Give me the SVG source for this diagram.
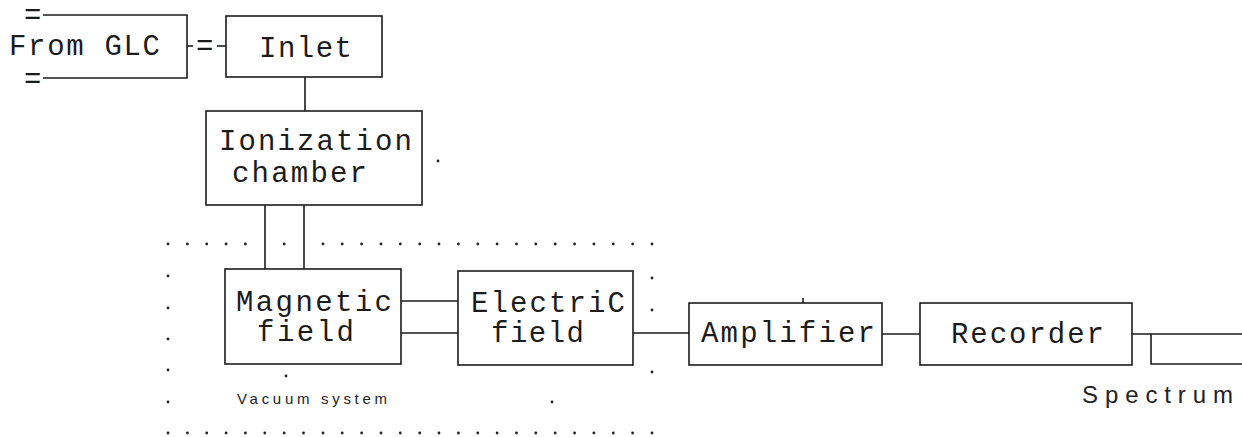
<svg xmlns="http://www.w3.org/2000/svg" width="1242" height="437" viewBox="0 0 1242 437">
<style>
.box{fill:none;stroke:#1c1c1c;stroke-width:1.6}
.ln{fill:none;stroke:#1c1c1c;stroke-width:1.6}
.t{font-family:"Liberation Mono","DejaVu Sans Mono",monospace;font-size:29px;fill:#1c1c1c}
.s{font-family:"Liberation Sans",Arial,sans-serif;fill:#222}
.d{fill:#222}
</style>
<defs>
<circle id="dot" r="1.4" class="d"/>
</defs>
<rect width="1242" height="437" fill="#ffffff"/>

<g id="vacuum-system">
<g id="vac-dots">
<use href="#dot" x="168" y="244"/><use href="#dot" x="187.4" y="244"/><use href="#dot" x="206.7" y="244"/><use href="#dot" x="226.1" y="244"/><use href="#dot" x="245.4" y="244"/><use href="#dot" x="284.2" y="244"/><use href="#dot" x="323" y="244"/><use href="#dot" x="342.2" y="244"/><use href="#dot" x="361.6" y="244"/><use href="#dot" x="381" y="244"/><use href="#dot" x="400.3" y="244"/><use href="#dot" x="419.7" y="244"/><use href="#dot" x="439" y="244"/><use href="#dot" x="458.4" y="244"/><use href="#dot" x="477.8" y="244"/><use href="#dot" x="497.1" y="244"/><use href="#dot" x="516.5" y="244"/><use href="#dot" x="535.8" y="244"/><use href="#dot" x="555.2" y="244"/><use href="#dot" x="574.6" y="244"/><use href="#dot" x="593.9" y="244"/><use href="#dot" x="613.3" y="244"/><use href="#dot" x="632.6" y="244"/><use href="#dot" x="652" y="244"/>
<use href="#dot" x="168" y="433"/><use href="#dot" x="187.4" y="433"/><use href="#dot" x="206.7" y="433"/><use href="#dot" x="226.1" y="433"/><use href="#dot" x="245.4" y="433"/><use href="#dot" x="264.8" y="433"/><use href="#dot" x="284.2" y="433"/><use href="#dot" x="303.5" y="433"/><use href="#dot" x="323" y="433"/><use href="#dot" x="342.2" y="433"/><use href="#dot" x="361.6" y="433"/><use href="#dot" x="381" y="433"/><use href="#dot" x="400.3" y="433"/><use href="#dot" x="419.7" y="433"/><use href="#dot" x="439" y="433"/><use href="#dot" x="458.4" y="433"/><use href="#dot" x="477.8" y="433"/><use href="#dot" x="497.1" y="433"/><use href="#dot" x="516.5" y="433"/><use href="#dot" x="535.8" y="433"/><use href="#dot" x="555.2" y="433"/><use href="#dot" x="574.6" y="433"/><use href="#dot" x="593.9" y="433"/><use href="#dot" x="613.3" y="433"/><use href="#dot" x="632.6" y="433"/><use href="#dot" x="652" y="433"/>
<use href="#dot" x="168" y="276"/><use href="#dot" x="168" y="308"/><use href="#dot" x="168" y="339"/><use href="#dot" x="168" y="370"/><use href="#dot" x="168" y="402"/>
<use href="#dot" x="652" y="278"/><use href="#dot" x="652" y="310"/><use href="#dot" x="652" y="372"/>
<use href="#dot" x="552" y="402"/><use href="#dot" x="286" y="376"/><use href="#dot" x="438" y="161"/>
</g>
<text class="s" x="237" y="404" font-size="15" textLength="150" lengthAdjust="spacing">Vacuum system</text>
</g>

<g id="connectors">
<line class="ln" x1="187" y1="46" x2="193" y2="46"/>
<text class="t" x="196" y="55" font-size="20">=</text>
<line class="ln" x1="217" y1="46" x2="226" y2="46"/>
<line class="ln" x1="305" y1="77" x2="305" y2="111"/>
<line class="ln" x1="265" y1="205" x2="265" y2="269"/>
<line class="ln" x1="304" y1="205" x2="304" y2="269"/>
<line class="ln" x1="401" y1="301" x2="458" y2="301"/>
<line class="ln" x1="401" y1="333" x2="458" y2="333"/>
<line class="ln" x1="633" y1="333" x2="689" y2="333"/>
<line class="ln" x1="882" y1="334" x2="920" y2="334"/>
<line class="ln" x1="1132" y1="334" x2="1242" y2="334"/>
<polyline class="ln" points="1151,334 1151,364 1242,364"/>
</g>

<g id="from-glc">
<polyline class="box" points="43,15 187,15 187,78 43,78"/>
<text class="t" x="24" y="24" font-size="16">=</text>
<text class="t" x="24" y="88" font-size="16">=</text>
<text class="t" x="9" y="55" textLength="151" lengthAdjust="spacing">From GLC</text>
</g>

<g id="inlet">
<rect class="box" x="226" y="16" width="156" height="61"/>
<text class="t" x="259" y="57" textLength="93" lengthAdjust="spacing">Inlet</text>
</g>

<g id="ionization-chamber">
<rect class="box" x="206" y="111" width="216" height="94"/>
<text class="t" x="219" y="150" textLength="193" lengthAdjust="spacing">Ionization</text>
<text class="t" x="232" y="182" textLength="135" lengthAdjust="spacing">chamber</text>
</g>

<g id="magnetic-field">
<rect class="box" x="225" y="269" width="176" height="95"/>
<text class="t" x="236" y="311" textLength="156" lengthAdjust="spacing">Magnetic</text>
<text class="t" x="257" y="341" textLength="97" lengthAdjust="spacing">field</text>
</g>

<g id="electric-field">
<rect class="box" x="458" y="271" width="175" height="94"/>
<text class="t" x="471" y="312" textLength="154" lengthAdjust="spacing">ElectriC</text>
<text class="t" x="491" y="342" textLength="93" lengthAdjust="spacing">field</text>
</g>

<g id="amplifier">
<rect class="box" x="689" y="303" width="193" height="62"/>
<line class="ln" x1="803" y1="298" x2="803" y2="303"/>
<text class="t" x="701" y="342" textLength="174" lengthAdjust="spacing">Amplifier</text>
</g>

<g id="recorder">
<rect class="box" x="920" y="303" width="212" height="62"/>
<text class="t" x="951" y="343" textLength="153" lengthAdjust="spacing">Recorder</text>
</g>

<g id="spectrum">
<text class="s" x="1082" y="403" font-size="24" textLength="151" lengthAdjust="spacing">Spectrum</text>
</g>
</svg>
